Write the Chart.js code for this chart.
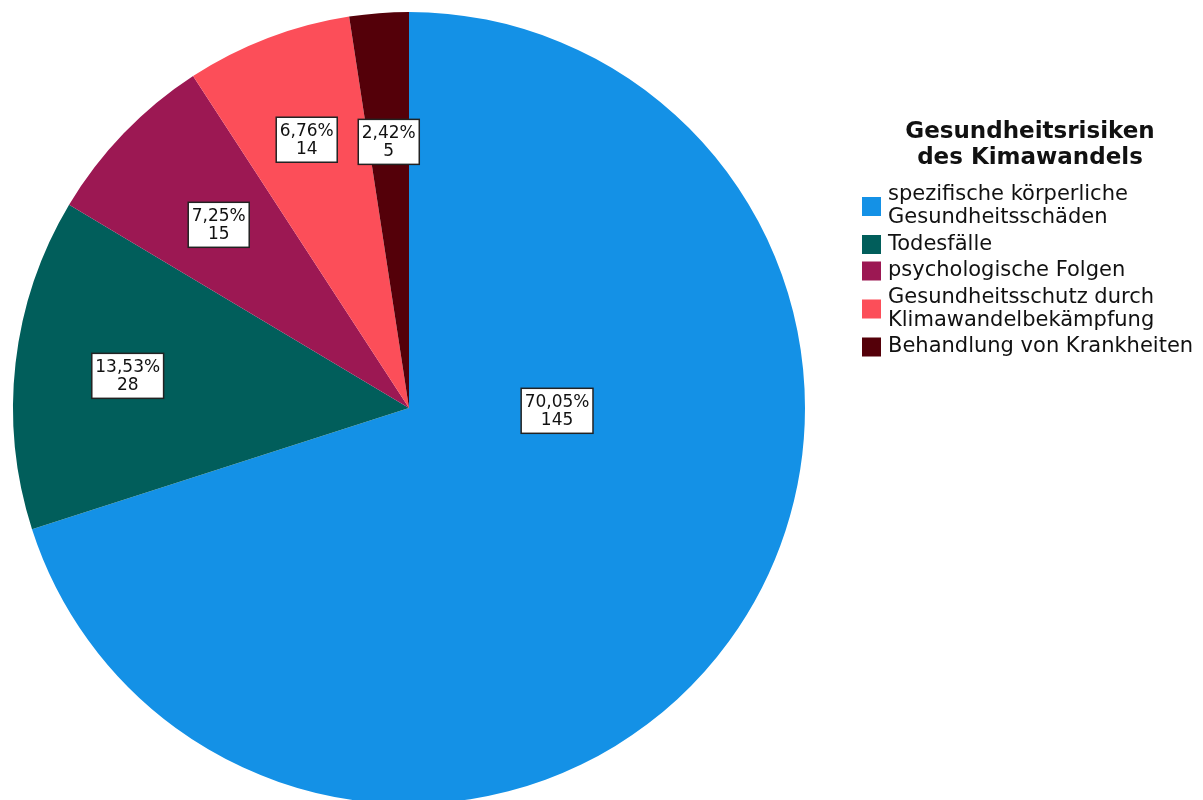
<!DOCTYPE html>
<html>
<head>
<meta charset="utf-8">
<script src="https://cdn.jsdelivr.net/npm/chart.js@4"></script>
<style>
  body { margin: 0; background: #fff; }
  #wrap { width: 1203px; height: 800px; overflow: hidden; }
</style>
</head>
<body>
<div id="wrap"><canvas id="pie-chart" width="1203" height="808"></canvas></div>
<script>
// Gesundheitsrisiken pie
const categories = [
  ['spezifische körperliche', 'Gesundheitsschäden'],
  ['Todesfälle'],
  ['psychologische Folgen'],
  ['Gesundheitsschutz durch', 'Klimawandelbekämpfung'],
  ['Behandlung von Krankheiten']
];
const counts = [145, 28, 15, 14, 5];
const percentLabels = ['70,05%', '13,53%', '7,25%', '6,76%', '2,42%'];
const legendTitle = ['Gesundheitsrisiken', 'des Kimawandels'];

const sliceColors = ['#1491e6', '#015e5b', '#9c1853', '#fc4e59', '#540009'];
// where each value box sits: fraction of radius, angle shift in degrees
const boxFrac = [0.374, 0.715, 0.667, 0.725, 0.674];
const boxShift = [-35, 0, 0, 0, 0];

const valueBoxes = {
  id: 'valueBoxes',
  afterDatasetsDraw(chart) {
    const ctx = chart.ctx;
    const arcs = chart.getDatasetMeta(0).data;
    ctx.save();
    ctx.font = '17px "DejaVu Sans"';
    ctx.textAlign = 'center';
    ctx.textBaseline = 'middle';
    arcs.forEach((arc, i) => {
      const mid = (arc.startAngle + arc.endAngle) / 2 + boxShift[i] * Math.PI / 180;
      const r = arc.outerRadius * boxFrac[i];
      const cx = arc.x + Math.cos(mid) * r;
      const cy = arc.y + Math.sin(mid) * r;
      const lines = [percentLabels[i], String(counts[i])];
      const w = Math.max(...lines.map(t => ctx.measureText(t).width)) + 7;
      const h = 45;
      ctx.fillStyle = '#fff';
      ctx.fillRect(cx - w / 2, cy - h / 2, w, h);
      ctx.strokeStyle = '#222';
      ctx.lineWidth = 1.5;
      ctx.strokeRect(cx - w / 2, cy - h / 2, w, h);
      ctx.fillStyle = '#111';
      ctx.fillText(lines[0], cx, cy - 8.5);
      ctx.fillText(lines[1], cx, cy + 9.5);
    });
    ctx.restore();
  }
};

const sideLegend = {
  id: 'sideLegend',
  afterDraw(chart) {
    const ctx = chart.ctx;
    ctx.save();
    ctx.fillStyle = '#111';
    ctx.textAlign = 'center';
    ctx.textBaseline = 'middle';
    ctx.font = 'bold 23px "DejaVu Sans"';
    legendTitle.forEach((t, i) => ctx.fillText(t, 1030, 132 + i * 26));

    ctx.font = '21px "DejaVu Sans"';
    ctx.textAlign = 'left';
    let y = 195;
    categories.forEach((lines, i) => {
      const top = y;
      lines.forEach((t, j) => {
        ctx.fillStyle = '#111';
        ctx.fillText(t, 888, y);
        y += 23;
      });
      const center = (top + y - 23) / 2;
      ctx.fillStyle = sliceColors[i];
      ctx.fillRect(862, center - 9.5, 19, 19);
      y += 3.5;
    });
    ctx.restore();
  }
};

const pieCtx = document.getElementById('pie-chart');
const pieData = {
  labels: categories.map(l => l.join(' ')),
  datasets: [{
    data: counts,
    backgroundColor: sliceColors,
    borderWidth: 0
  }]
};
const pieConfig = {
  type: 'pie',
  data: pieData,
  options: {
    responsive: false,
    animation: false,
    layout: { padding: { left: 13, right: 398, top: 12, bottom: 4 } },
    plugins: {
      legend: { display: false },
      tooltip: { enabled: false }
    }
  },
  plugins: [valueBoxes, sideLegend]
};
new Chart(pieCtx, pieConfig);
</script>
</body>
</html>
